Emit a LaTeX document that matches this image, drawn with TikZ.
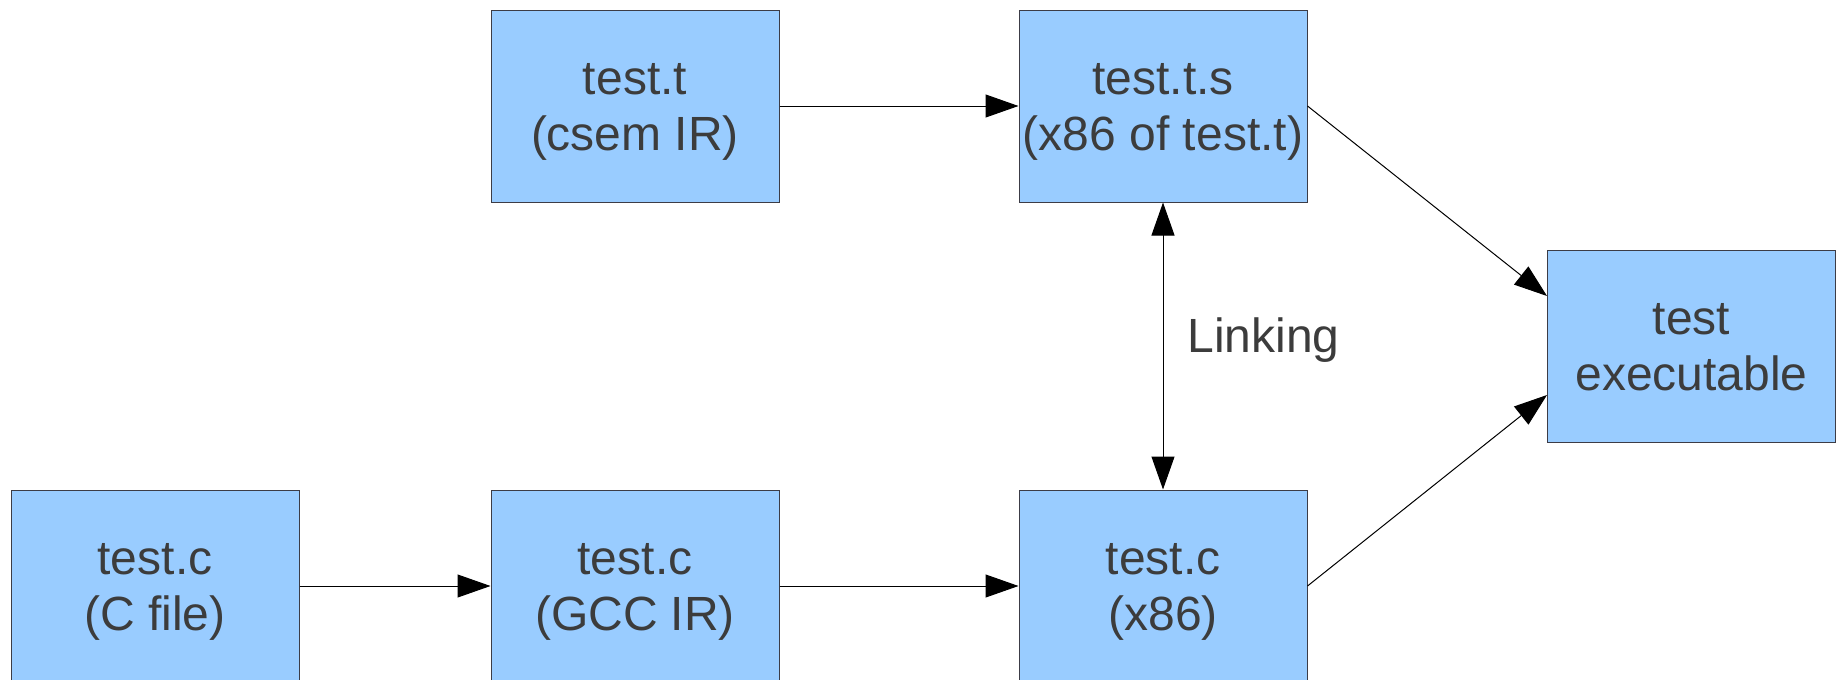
\documentclass[tikz,border=0pt]{standalone}
\usepackage{fontspec}
\setmainfont{Liberation Sans}
\usetikzlibrary{arrows.meta}
\definecolor{boxfill}{RGB}{153,204,255}
\definecolor{boxline}{RGB}{60,60,70}
\definecolor{txt}{RGB}{60,60,60}
\newcommand{\twolines}[2]{\raisebox{-2.5pt}[\height][\depth]{\begin{tabular}{@{}c@{}}#1\\#2\end{tabular}}}
\tikzset{
  stage/.style={draw=boxline, line width=0.5pt, fill=boxfill, minimum width=144pt, minimum height=96pt,
    inner sep=0pt, text=txt, font=\fontsize{24}{28}\selectfont},
  conn/.style={draw=black, line width=0.5pt, -{Triangle[length=16.5pt,width=11.5pt]}},
  lbl/.style={text=txt, font=\fontsize{24}{28}\selectfont, inner sep=0pt}
}
\begin{document}
\begin{tikzpicture}[x=0.5pt,y=-0.5pt]
\useasboundingbox (0,0) rectangle (1837,680);
\node[stage] (tt) at (635,106) {\twolines{test.t}{(csem IR)}};
\node[stage] (tts) at (1163,106) {\twolines{test.t.s}{(x86 of test.t)}};
\node[stage] (exe) at (1691.5,346) {\twolines{test}{executable}};
\node[stage] (cf) at (155,586) {\twolines{test.c}{(C file)}};
\node[stage] (gcc) at (635,586) {\twolines{test.c}{(GCC IR)}};
\node[stage] (x86) at (1163,586) {\twolines{test.c}{(x86)}};
\draw[conn] (tt) -- (tts);
\draw[conn] (cf) -- (gcc);
\draw[conn] (gcc) -- (x86);
\draw[conn, {Triangle[length=16.5pt,width=11.5pt]}-{Triangle[length=16.5pt,width=11.5pt]}] (tts) -- (x86)
  node[lbl, midway, anchor=west, xshift=12pt, yshift=3pt] (link) {Linking};
\draw[conn] (tts.east) -- ([yshift=25pt]exe.west);
\draw[conn] (x86.east) -- ([yshift=-24.5pt]exe.west);
\end{tikzpicture}
\end{document}
